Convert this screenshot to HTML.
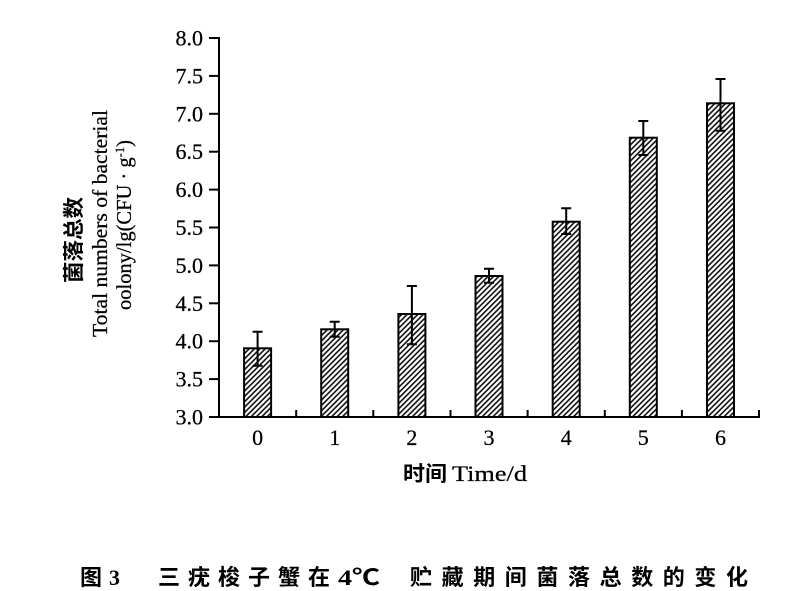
<!DOCTYPE html>
<html><head><meta charset="utf-8">
<style>
html,body{margin:0;padding:0;background:#fff;}
svg{display:block;}
text{fill:#000;}
.t{font-family:"Liberation Serif","Noto Serif CJK SC",serif;font-size:22px;stroke:#000;stroke-width:0.25;}
.cj{font-family:"Liberation Sans","Noto Sans CJK SC",sans-serif;font-weight:bold;}
</style></head>
<body>
<svg width="800" height="591" viewBox="0 0 800 591" xmlns="http://www.w3.org/2000/svg">
<defs>
<pattern id="h" patternUnits="userSpaceOnUse" width="3.8" height="10" patternTransform="rotate(45)">
<rect width="3.8" height="10" fill="#fff"/>
<line x1="1" y1="0" x2="1" y2="10" stroke="#000" stroke-width="1.5"/>
</pattern>
</defs>
<rect width="800" height="591" fill="#fff"/>

<!-- axes -->
<g stroke="#000" stroke-width="2" fill="none">
<line x1="219" y1="37" x2="219" y2="418"/>
<line x1="209" y1="417" x2="760" y2="417"/>
<line x1="209" y1="38" x2="219" y2="38"/>
<line x1="209" y1="75.9" x2="219" y2="75.9"/>
<line x1="209" y1="113.8" x2="219" y2="113.8"/>
<line x1="209" y1="151.7" x2="219" y2="151.7"/>
<line x1="209" y1="189.6" x2="219" y2="189.6"/>
<line x1="209" y1="227.5" x2="219" y2="227.5"/>
<line x1="209" y1="265.4" x2="219" y2="265.4"/>
<line x1="209" y1="303.3" x2="219" y2="303.3"/>
<line x1="209" y1="341.2" x2="219" y2="341.2"/>
<line x1="209" y1="379.1" x2="219" y2="379.1"/>
<line x1="296.2" y1="417" x2="296.2" y2="410"/>
<line x1="373.3" y1="417" x2="373.3" y2="410"/>
<line x1="450.5" y1="417" x2="450.5" y2="410"/>
<line x1="527.6" y1="417" x2="527.6" y2="410"/>
<line x1="604.8" y1="417" x2="604.8" y2="410"/>
<line x1="681.9" y1="417" x2="681.9" y2="410"/>
<line x1="759" y1="417" x2="759" y2="410"/>
</g>

<!-- y tick labels -->
<g class="t" text-anchor="end">
<text x="203" y="45.5">8.0</text>
<text x="203" y="83.4">7.5</text>
<text x="203" y="121.3">7.0</text>
<text x="203" y="159.2">6.5</text>
<text x="203" y="197.1">6.0</text>
<text x="203" y="235">5.5</text>
<text x="203" y="272.9">5.0</text>
<text x="203" y="310.8">4.5</text>
<text x="203" y="348.7">4.0</text>
<text x="203" y="386.6">3.5</text>
<text x="203" y="424.5">3.0</text>
</g>

<!-- x tick labels -->
<g class="t" text-anchor="middle">
<text x="257.6" y="445">0</text>
<text x="334.7" y="445">1</text>
<text x="411.9" y="445">2</text>
<text x="489" y="445">3</text>
<text x="566.2" y="445">4</text>
<text x="643.3" y="445">5</text>
<text x="720.5" y="445">6</text>
</g>

<!-- bars -->
<g stroke="#000" stroke-width="2" fill="url(#h)">
<rect x="244.1" y="348.3" width="27" height="68.7"/>
<rect x="321.2" y="329.3" width="27" height="87.7"/>
<rect x="398.4" y="314" width="27" height="103"/>
<rect x="475.5" y="276" width="27" height="141"/>
<rect x="552.7" y="221.7" width="27" height="195.3"/>
<rect x="629.8" y="137.7" width="27" height="279.3"/>
<rect x="707" y="103.3" width="27" height="313.7"/>
</g>

<!-- error bars -->
<g stroke="#000" stroke-width="2" fill="none">
<path d="M257.6 331.7V365.7M252.6 331.7H262.6M252.6 365.7H262.6"/>
<path d="M334.7 321.7V336.7M329.7 321.7H339.7M329.7 336.7H339.7"/>
<path d="M411.9 286V344.3M406.9 286H416.9M406.9 344.3H416.9"/>
<path d="M489 268.7V282.7M484 268.7H494M484 282.7H494"/>
<path d="M566.2 208.3V234M561.2 208.3H571.2M561.2 234H571.2"/>
<path d="M643.3 121V155M638.3 121H648.3M638.3 155H648.3"/>
<path d="M720.5 79V130.7M715.5 79H725.5M715.5 130.7H725.5"/>
</g>

<!-- x axis title -->
<text x="403" y="481" class="cj" style="font-size:21px;" textLength="44" lengthAdjust="spacingAndGlyphs">时间</text>
<text x="452" y="481" class="t" textLength="75" lengthAdjust="spacingAndGlyphs">Time/d</text>

<!-- y axis title -->
<g>
<text transform="translate(81,240) rotate(-90)" text-anchor="middle" class="cj" style="font-size:21px;" textLength="86" lengthAdjust="spacingAndGlyphs">菌落总数</text>
<text transform="translate(107,223.5) rotate(-90)" text-anchor="middle" class="t" style="font-size:21px;" textLength="227" lengthAdjust="spacingAndGlyphs">Total numbers of bacterial</text>
<text transform="translate(131,225) rotate(-90)" text-anchor="middle" class="t" style="font-size:21px;" textLength="170" lengthAdjust="spacingAndGlyphs">oolony/lg(CFU · g<tspan dy="-7" style="font-size:13px;">-1</tspan><tspan dy="7">)</tspan></text>
</g>

<!-- caption -->
<g class="cj" style="font-size:22px;">
<text x="80" y="585">图</text>
<text x="109" y="585" style="font-family:'Liberation Serif',serif;font-weight:bold;">3</text>
<text x="158" y="585" textLength="172" lengthAdjust="spacing">三疣梭子蟹在</text>
<text x="338" y="585" textLength="42" lengthAdjust="spacingAndGlyphs"><tspan style="font-family:'Liberation Serif',serif;">4</tspan>℃</text>
<text x="410" y="585" textLength="338" lengthAdjust="spacing">贮藏期间菌落总数的变化</text>
</g>
</svg>
</body></html>
